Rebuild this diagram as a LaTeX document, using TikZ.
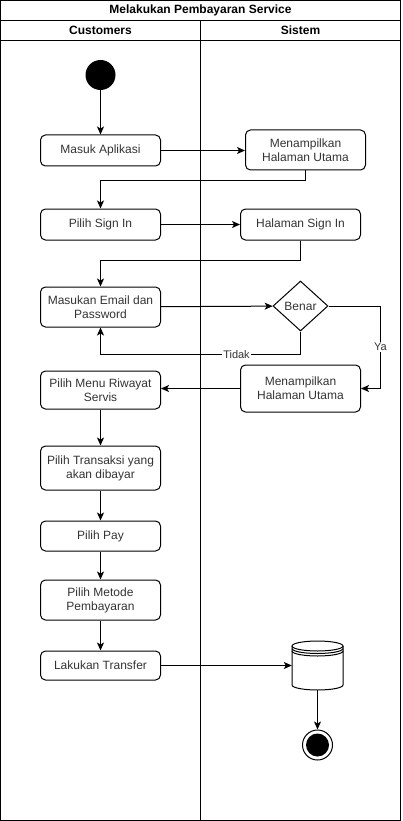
\documentclass[tikz,border=0pt]{standalone}
\usepackage{fontspec}
\setmainfont{Liberation Sans}
\usetikzlibrary{arrows.meta}
\usetikzlibrary{shapes.geometric}
\tikzset{
    act/.style={draw, line width=1pt, rounded corners=5pt, minimum width=120pt, align=center, inner sep=2pt, text=black!80, font=\fontsize{12}{14}\selectfont},
    flow/.style={line width=1pt, -{Stealth[length=8pt,width=7pt,inset=2pt]}},
    lbl/.style={fill=white, inner sep=1pt, text=black!80, font=\fontsize{11}{13}\selectfont},
    head/.style={font=\bfseries\fontsize{12}{14}\selectfont}
}

\begin{document}
\begin{tikzpicture}[x=1pt,y=-1pt]
            \useasboundingbox (0,0) rectangle (402,821);
            % lanes
            \draw[line width=1pt] (0.5,0.5) rectangle (400.5,820.5);
            \draw[line width=1pt] (0.5,20.5)--(400.5,20.5);
            \draw[line width=1pt] (0.5,40.5)--(400.5,40.5);
            \draw[line width=1pt] (200.5,20.5)--(200.5,820.5);
            \node[head] (judul) at (200.5,10.5) {Melakukan Pembayaran Service};
            \node[head] (laneA) at (100.5,30.5) {Customers};
            \node[head] (laneB) at (300.5,30.5) {Sistem};
            % customers
            \node[circle, fill=black, minimum size=30pt, inner sep=0pt] (mulai) at (100.5,75) {};
            \node[act, minimum height=31pt] (masuk) at (100.5,150.5) {Masuk Aplikasi};
            \node[act, minimum height=31pt] (signin) at (100.5,224.5) {Pilih Sign In};
            \node[act, minimum height=40pt] (email) at (100.5,307) {Masukan Email dan\\Password};
            \node[act, minimum height=38pt] (riwayat) at (100.5,390) {Pilih Menu Riwayat\\Servis};
            \node[act, minimum height=44pt] (transaksi) at (100.5,468) {Pilih Transaksi yang\\akan dibayar};
            \node[act, minimum height=30pt] (pay) at (100.5,536) {Pilih Pay};
            \node[act, minimum height=40pt] (metode) at (100.5,600) {Pilih Metode\\Pembayaran};
            \node[act, minimum height=29pt] (transfer) at (100.5,665.5) {Lakukan Transfer};
            % sistem
            \node[act, minimum height=40pt] (utama) at (305.5,150) {Menampilkan\\Halaman Utama};
            \node[act, minimum height=31pt] (halsign) at (300.5,224.5) {Halaman Sign In};
            \node[diamond, draw, line width=1pt, minimum width=55pt, minimum height=50pt, inner sep=0pt, text=black!80, font=\fontsize{12}{14}\selectfont] (benar) at (300.5,306) {Benar};
            \node[act, minimum height=47pt] (utama2) at (300.5,388.5) {Menampilkan\\Halaman Utama};
            \node[minimum width=51pt, minimum height=49pt, inner sep=0pt] (db) at (317.5,665.5) {};
            \draw[line width=1pt, fill=white] (292,646) -- (292,685) arc[start angle=180, end angle=0, x radius=25.5, y radius=5] -- (343,646);
            \draw[line width=1pt] (317.5,646) ellipse[x radius=25.5, y radius=5];
            \draw[line width=1pt] (292,648.5) arc[start angle=180, end angle=0, x radius=25.5, y radius=5];
            \draw[line width=1pt] (292,651) arc[start angle=180, end angle=0, x radius=25.5, y radius=5];
            \node[circle, draw, line width=1pt, minimum size=30pt, inner sep=0pt] (selesai) at (317.5,745) {};
            \fill (selesai.center) circle (11.5pt);
            % flows
            \draw[flow] (mulai) -- (masuk);
            \draw[flow] (masuk.east) -- (masuk.east -| utama.west);
            \draw[flow] (utama.south) -- ++(0,10) -| (signin.north);
            \draw[flow] (signin) -- (halsign);
            \draw[flow] (halsign.south) -- ++(0,20) -| (email.north);
            \draw[flow] (email) -- (benar);
            \draw[flow] (benar.south) -- ++(0,23) -| node[lbl, pos=0.16]{Tidak} (email.south);
            \draw[flow] (benar.east) -- ++(52,0) |- node[lbl, pos=0.25]{Ya} (utama2.east);
            \draw[flow] (utama2.west) -- (utama2.west -| riwayat.east);
            \draw[flow] (riwayat) -- (transaksi);
            \draw[flow] (transaksi) -- (pay);
            \draw[flow] (pay) -- (metode);
            \draw[flow] (metode) -- (transfer);
            \draw[flow] (transfer) -- (db);
            \draw[flow] (db) -- (selesai);
        \end{tikzpicture}
\end{document}
